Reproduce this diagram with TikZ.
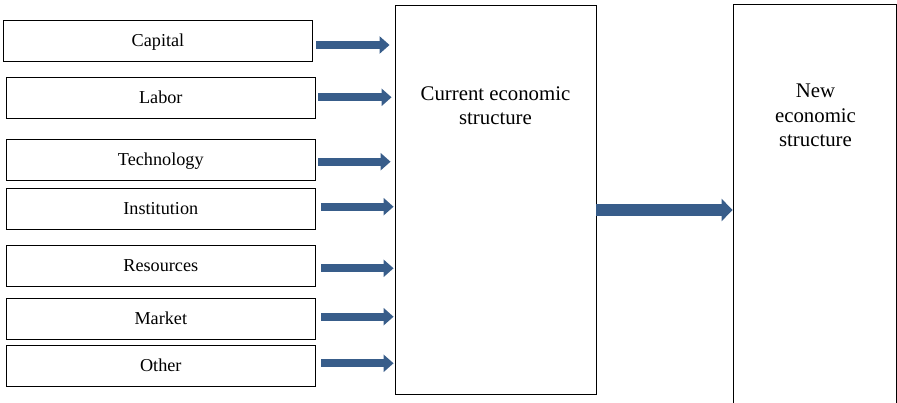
\documentclass[tikz,border=0pt]{standalone}
\usepackage{fontspec}
\setmainfont{Liberation Serif}
\usepackage{tikz}
\usetikzlibrary{arrows.meta,shapes,positioning}
\usepackage{xcolor}
\definecolor{esblue}{RGB}{56,93,138}
\tikzstyle{factor} = [rectangle, draw=black, line width=0.9pt, minimum width=309pt, minimum height=41pt, inner sep=0pt, text centered, text height=12.1pt, text depth=0.5pt, font=\rmfamily\fontsize{18.2}{21}\selectfont]
\tikzstyle{structure} = [rectangle, draw=black, line width=0.9pt, inner sep=0pt]
\tikzstyle{bigtext} = [align=center, inner sep=0pt, anchor=north, font=\rmfamily\fontsize{20.8}{24.5}\selectfont]
\tikzstyle{flow} = [line width=8pt, color=esblue, -{Triangle[length=10pt,width=17pt]}]
\tikzstyle{bigflow} = [line width=12pt, color=esblue, -{Triangle[length=11pt,width=22pt]}]

\begin{document}
\begin{tikzpicture}
\useasboundingbox (0,0) rectangle (897pt,-403pt);
% Factors
\node (capital) [factor] at (158pt,-41.2pt) {Capital};
\node (labor) [factor, below of=capital, node distance=56.6pt, xshift=2.8pt] {Labor};
\node (technology) [factor, below of=labor, node distance=61.7pt] {Technology};
\node (institution) [factor, below of=technology, node distance=49.3pt] {Institution};
\node (resources) [factor, below of=institution, node distance=57pt] {Resources};
\node (market) [factor, below of=resources, node distance=53.2pt] {Market};
\node (other) [factor, below of=market, node distance=46.8pt] {Other};

% Structures
\node (current) [structure, minimum width=201pt, minimum height=389pt] at (495.5pt,-199.5pt) {};
\node (currenttext) [bigtext] at (495.5pt,-86.2pt) {Current economic\\structure};
\node (new) [structure, minimum width=163pt, minimum height=416pt] at (814.5pt,-212pt) {};
\node (newtext) [bigtext] at (815.5pt,-84pt) {New\\economic\\structure};

% Arrows
\draw[flow] ([xshift=3.5pt,yshift=-3.8pt]capital.east) -- ([xshift=-5pt,yshift=-3.8pt]capital.east -| current.west);
\draw[flow] ([xshift=2.5pt,yshift=0.5pt]labor.east) -- ([xshift=-3pt,yshift=0.5pt]labor.east -| current.west);
\draw[flow] ([xshift=2.5pt,yshift=-2.2pt]technology.east) -- ([xshift=-4pt,yshift=-2.2pt]technology.east -| current.west);
\draw[flow] ([xshift=5pt,yshift=2.1pt]institution.east) -- ([xshift=-1pt,yshift=2.1pt]institution.east -| current.west);
\draw[flow] ([xshift=5.5pt,yshift=-2.5pt]resources.east) -- ([xshift=-1pt,yshift=-2.5pt]resources.east -| current.west);
\draw[flow] ([xshift=5.5pt,yshift=2.3pt]market.east) -- ([xshift=-1pt,yshift=2.3pt]market.east -| current.west);
\draw[flow] ([xshift=5.5pt,yshift=2.5pt]other.east) -- ([xshift=-1pt,yshift=2.5pt]other.east -| current.west);
\draw[bigflow] ([yshift=-10.5pt]current.east) -- ([yshift=-10.5pt]current.east -| new.west);
\end{tikzpicture}
\end{document}
